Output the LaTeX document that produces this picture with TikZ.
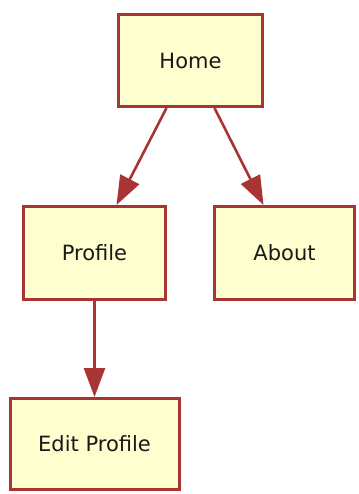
\documentclass[tikz,border=0pt]{standalone}
\usepackage{fontspec}
\setmainfont{DejaVu Sans}
\usepackage{tikz}
\usetikzlibrary{arrows.meta, positioning}
\usepackage{xcolor}
\definecolor{umlfill}{RGB}{254, 254, 206}
\definecolor{umlred}{RGB}{168, 52, 52}

\begin{document}
\begin{tikzpicture}[
			x=1pt, y=-1pt,
			font=\fontsize{21}{25}\selectfont,
			page/.style={draw=umlred, fill=umlfill, line width=3pt, inner sep=0pt, text=black!90},
			link/.style={draw=umlred, line width=2.6pt, -{Triangle[length=29pt, width=21pt]}}
		]

		\useasboundingbox (0,0) rectangle (358,494);

		\def\yTop{60.5}
		\def\yMid{253}
		\def\yLow{444}

		%% 1. Pages
		\node[page, minimum width=144pt, minimum height=92pt] (home) at (190.5,\yTop) {Home};
		\node[page, minimum width=142pt, minimum height=93pt] (profile) at (94.5,\yMid) {Profile};
		\node[page, minimum width=140pt, minimum height=93pt] (about) at (284.5,\yMid) {About};
		\node[page, minimum width=169pt, minimum height=91pt] (edit) at (94.5,\yLow) {Edit Profile};

		%% 2. Links
		\draw[link] ([xshift=-24pt]home.south) -- ([xshift=22pt]profile.north);
		\draw[link] ([xshift=24pt]home.south) -- ([xshift=-21pt]about.north);
		\draw[link] (profile.south) -- (profile.south |- edit.north);

		\end{tikzpicture}
\end{document}
